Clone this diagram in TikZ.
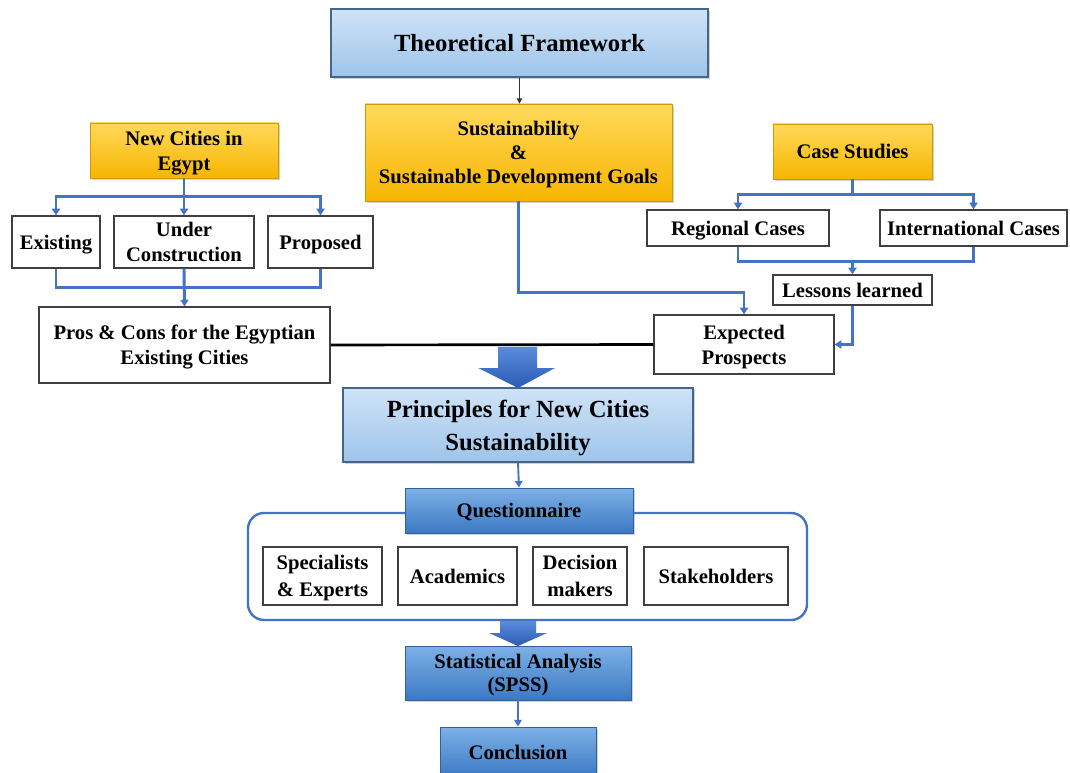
\documentclass[tikz,border=0pt]{standalone}
\usepackage{fontspec}
\setmainfont{Liberation Serif}
\usetikzlibrary{arrows.meta,shadows,calc}
\definecolor{lnblue}{HTML}{4472C4}
\definecolor{ltblueT}{HTML}{CFE3F7}
\definecolor{ltblueB}{HTML}{9EC4EA}
\definecolor{ltborder}{HTML}{46658A}
\definecolor{mdblueT}{HTML}{7DB0E6}
\definecolor{mdblueB}{HTML}{3C79C4}
\definecolor{orT}{HTML}{FFD95A}
\definecolor{orB}{HTML}{F7B500}
\definecolor{blkT}{HTML}{5A8CDC}
\definecolor{blkB}{HTML}{2A5BB5}
\begin{document}
\begin{tikzpicture}[x=0.75pt,y=-0.75pt,
  wh/.style 2 args={minimum width={#1*0.75pt}, minimum height={#2*0.75pt}, inner sep=0pt, align=center, text depth=-1pt},
  ft/.style={font=\fontsize{15.5}{19}\selectfont\bfseries},
  ftsus/.style={font=\fontsize{15.5}{18}\selectfont\bfseries},
  ftsa/.style={font=\fontsize{15.5}{17.5}\selectfont\bfseries},
  ftbig/.style={font=\fontsize{18.5}{25}\selectfont\bfseries},
  ftin/.style={font=\fontsize{15.5}{20}\selectfont\bfseries},
  shd/.style={drop shadow={opacity=0.35, shadow xshift=1.2pt, shadow yshift=-1.2pt}},
  wbox/.style={draw=black!75, line width=0.9pt, fill=white},
  lbbox/.style={shd, top color=ltblueT, bottom color=ltblueB, draw=ltborder, line width=1.5pt},
  mbbox/.style={shd, top color=mdblueT, bottom color=mdblueB, draw=mdblueB!80!black, line width=0.6pt},
  orbox/.style={shd, top color=orT, bottom color=orB, draw=orB!85!black, line width=0.5pt},
  bl/.style={draw=lnblue, line width=2.2pt},
  bla/.style={bl, -{Triangle[length=5pt,width=6pt]}},
  blt/.style={draw=lnblue, line width=1.4pt, -{Triangle[length=5pt,width=5.5pt]}},
  blk/.style={draw=black!80, line width=0.8pt, -{Triangle[length=4pt,width=4pt]}}
]
\clip (0,0) rectangle (1070,773);
\fill[white] (0,0) rectangle (1070,773);

% top
\node[lbbox, wh={377}{68}, ftbig] (tf) at (519.5,43) {Theoretical Framework};
\node[orbox, wh={307}{97}, ftsus] (sus) at (518.5,152.5) {Sustainability\\\&\\Sustainable Development Goals};

% left branch
\node[orbox, wh={188}{55}, ft] (nc) at (184,150.5) {New Cities in\\Egypt};
\node[wbox, wh={88}{52}, ft] (ex) at (56,242) {Existing};
\node[wbox, wh={140}{52}, ft] (uc) at (184,242) {Under\\Construction};
\node[wbox, wh={105}{52}, ft] (pr) at (320.5,242) {Proposed};
\node[wbox, wh={291}{76}, ft] (pc) at (184.5,345) {Pros \& Cons for the Egyptian\\Existing Cities};

% right branch
\node[orbox, wh={159}{55}, ft] (cs) at (852.5,151.5) {Case Studies};
\node[wbox, wh={182}{36}, ft] (rc) at (738,228) {Regional Cases};
\node[wbox, wh={187}{36}, ft] (ic) at (973.5,228) {International Cases};
\node[wbox, wh={159}{30}, ft] (ll) at (852.5,290) {Lessons learned};
\node[wbox, wh={180}{59}, ft] (ep) at (744,344.5) {Expected\\Prospects};

% middle
\node[lbbox, wh={350}{74}, ftbig] (pn) at (518,425) {Principles for New Cities\\Sustainability};

% questionnaire group
\node[draw=lnblue, line width=1.8pt, rounded corners=12pt, fill=white, wh={559}{107}] (grp) at (527.5,566.5) {};
\node[mbbox, wh={228}{45}, ft] (q) at (519,510.5) {Questionnaire};
\node[wbox, wh={119}{58}, ftin] (sp) at (322.5,576) {Specialists\\\& Experts};
\node[wbox, wh={119}{58}, ftin] (ac) at (457.5,576) {Academics};
\node[wbox, wh={94}{58}, ftin] (dm) at (580,576) {Decision\\makers};
\node[wbox, wh={144}{58}, ftin] (sh) at (716,576) {Stakeholders};

% bottom
\node[mbbox, wh={226}{54}, ftsa] (sa) at (518,673) {Statistical Analysis\\(SPSS)};
\node[mbbox, wh={156}{50}, ft] (co) at (518,752) {Conclusion};

% connectors
\draw[blk] (tf.south) -- (tf.south|-sus.north);

\draw[bl] (nc.south) -- ++(0,18) coordinate (ncb);
\draw[bla] (ncb) -| (ex.north);
\draw[bla] (ncb) -| (pr.north);
\draw[bla] (ncb) -- (uc.north);
\draw[bl] (ex.south) -- ++(0,19) coordinate (exb) -| (pr.south);
\draw[bla] (uc.south) -- (pc.north);

\draw[bl] (cs.south) -- ++(0,15) coordinate (csb);
\draw[bla] (csb) -| (rc.north);
\draw[bla] (csb) -| (ic.north);
\draw[bl] (rc.south) -- ++(0,15) coordinate (rcb) -| (ic.south);
\draw[bla] (ll.north|-rcb) -- (ll.north);
\draw[bla] (ll.south) |- (ep.east);

\draw[bla] (sus.south) -- ++(0,91) -| (ep.north);
\draw[black, line width=2pt] (pc.east) -- (ep.west);

\draw[blt] (pn.south) -- (q.north);
\draw[blt] (sa.south) -- (co.north);

% block arrows
\shade[top color=blkT, bottom color=blkB] (498,347) -- (537,347) -- (537,368) -- (555,368) -- (518,388) -- (478,368) -- (498,368) -- cycle;
\shade[top color=blkT, bottom color=blkB] (500,621) -- (536,621) -- (536,633) -- (547,633) -- (518,646) -- (489,633) -- (500,633) -- cycle;
\end{tikzpicture}
\end{document}
